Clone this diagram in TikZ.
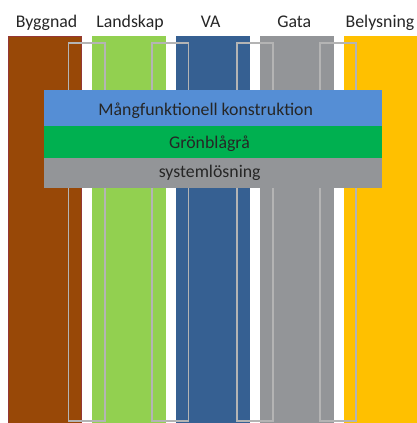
\documentclass[tikz,border=0pt]{standalone}
\usepackage{fontspec}
\setmainfont{Carlito}
\definecolor{cbygg}{HTML}{984807}
\definecolor{cbyggedge}{HTML}{953735}
\definecolor{cland}{HTML}{92D050}
\definecolor{cva}{HTML}{366092}
\definecolor{cgata}{HTML}{939598}
\definecolor{cbelys}{HTML}{FFC000}
\definecolor{cblue}{HTML}{558ED5}
\definecolor{cgreen}{HTML}{00B050}
\definecolor{cgray}{HTML}{939598}
\definecolor{cbracket}{HTML}{B4B4B4}
\definecolor{ctext}{HTML}{262626}
\tikzset{
  lbl/.style={anchor=base, inner sep=0pt, text=ctext, font=\fontsize{17.8}{20}\selectfont},
  bracketbox/.style={draw=cbracket, line width=1.6pt},
}
\begin{document}
\begin{tikzpicture}[x=1pt,y=-1pt]
\useasboundingbox (0,0) rectangle (417,423);
\fill[white] (0,0) rectangle (417,423);
% columns
\fill[cbygg, draw=cbyggedge, line width=0.8pt] (8.4,36) rectangle (81.6,424);
\fill[cland] (92,36) rectangle (166,424);
\fill[cva] (176,36) rectangle (250,424);
\fill[cgata] (260,36) rectangle (334,424);
\fill[cbelys] (344,36) rectangle (418,424);
% brackets
\draw[bracketbox] (68.6,42.8) rectangle (105.2,421.2);
\draw[bracketbox] (152.2,42.8) rectangle (188.6,421.2);
\draw[bracketbox] (236.8,42.8) rectangle (273.2,421.2);
\draw[bracketbox] (320.2,42.8) rectangle (355.8,421.2);
% bands
\fill[cblue] (44,90) rectangle (382,126);
\fill[cgreen] (44,126) rectangle (382,158.3);
\fill[cgray] (44,158.3) rectangle (382,187.7);
% headers
\node[lbl] (byggnad) at (46.5,27.3) {Byggnad};
\node[lbl] (landskap) at (130,27.3) {Landskap};
\node[lbl] (va) at (210.7,27.3) {VA};
\node[lbl] (gata) at (294.3,27.3) {Gata};
\node[lbl] (belysning) at (380,27.3) {Belysning};
% band texts
\node[lbl] (mang) at (205.7,115.7) {Mångfunktionell konstruktion};
\node[lbl] (gron) at (209.5,148.3) {Grönblågrå};
\node[lbl] (system) at (209.7,177.7) {systemlösning};
\end{tikzpicture}
\end{document}
